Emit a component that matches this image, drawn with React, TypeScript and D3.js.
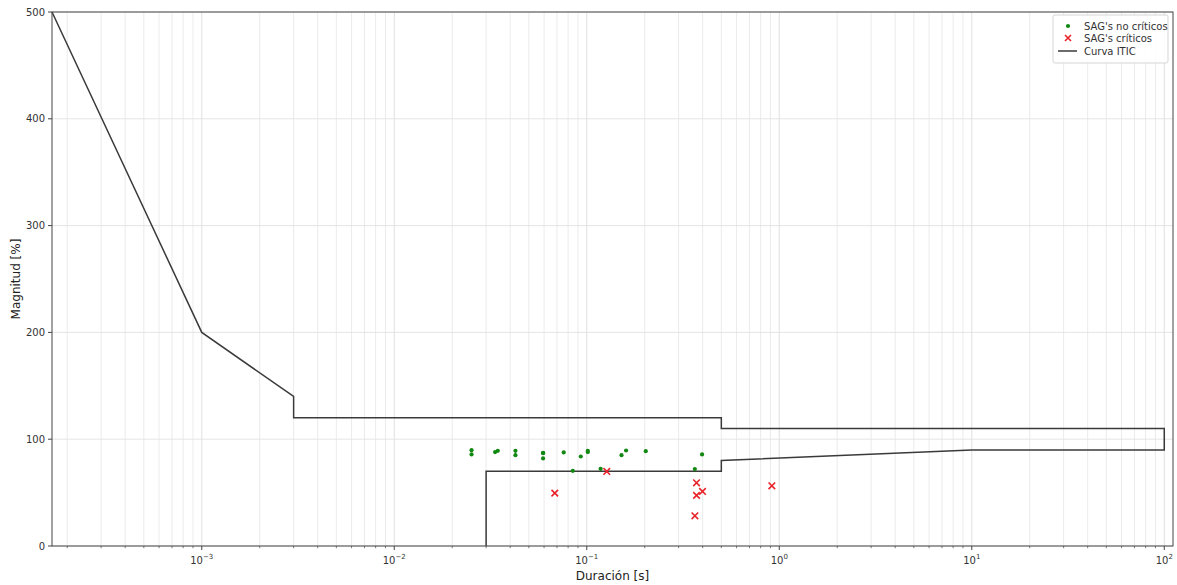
import React from 'react';
import * as d3 from 'd3';

// SAG events (duration in s, magnitude in %)
const nonCriticalDur = [0.0252, 0.0252, 0.0334, 0.0345, 0.0426, 0.0426, 0.0593, 0.0593, 0.0593, 0.0759, 0.0846, 0.0931, 0.1012, 0.1012, 0.118, 0.1515, 0.16, 0.2025, 0.3642, 0.3972];
const nonCriticalMag = [89.7, 85.7, 87.9, 89.1, 89.1, 85.0, 86.9, 87.3, 82.0, 87.6, 70.4, 83.8, 87.9, 89.0, 72.3, 85.0, 89.4, 88.8, 72.0, 85.7];
const criticalDur = [0.0682, 0.127, 0.3717, 0.3993, 0.3717, 0.3645, 0.915];
const criticalMag = [49.5, 69.8, 59.2, 51.1, 47.4, 28.3, 56.4];

// ITIC curve
const iticDur = [1.667e-4, 0.001, 0.003, 0.003, 0.5, 0.5, 100, 100, 10, 0.5, 0.5, 0.03, 0.03];
const iticMag = [500, 200, 140, 120, 120, 110, 110, 90, 90, 80, 70, 70, 0];

const yTicks = [0, 100, 200, 300, 400, 500];
const xDecades = [-3, -2, -1, 0, 1, 2];

const W = 1177;
const H = 585;
const left = 52, right = 1173, top = 12, bottom = 546;

const App = () => {
  const x = d3.scaleLog().domain([1.667e-4, 111]).range([left, right]);
  const y = d3.scaleLinear().domain([0, 500]).range([bottom, top]);

  const minor: number[] = [];
  for (let e = -4; e <= 2; e++) {
    for (let k = 2; k <= 9; k++) {
      const v = k * Math.pow(10, e);
      if (v > 1.667e-4 && v < 111) minor.push(v);
    }
  }

  const line = d3
    .line<number>()
    .x((_, i) => x(iticDur[i]))
    .y((d) => y(d));

  const font = 'DejaVu Sans, sans-serif';
  const ink = '#444';

  return (
    <svg width={W} height={H} style={{ position: 'absolute', left: 0, top: 0 }} fontFamily={font}>
      <rect width={W} height={H} fill="#fff" />
      {/* grid */}
      {minor.map((v, i) => (
        <line key={'mg' + i} x1={x(v)} x2={x(v)} y1={top} y2={bottom} stroke="#e6e6e6" strokeWidth={0.8} />
      ))}
      {xDecades.map((e) => (
        <line key={'Mg' + e} x1={x(Math.pow(10, e))} x2={x(Math.pow(10, e))} y1={top} y2={bottom} stroke="#dcdcdc" strokeWidth={0.9} />
      ))}
      {yTicks.map((t) => (
        <line key={'yg' + t} x1={left} x2={right} y1={y(t)} y2={y(t)} stroke="#e2e2e2" strokeWidth={0.9} />
      ))}

      {/* ITIC */}
      <path d={line(iticMag) || ''} fill="none" stroke="#3a3a3a" strokeWidth={1.5} />

      {/* non critical */}
      {nonCriticalDur.map((d, i) => (
        <circle key={'g' + i} cx={x(d)} cy={y(nonCriticalMag[i])} r={2.1} fill="#118811" />
      ))}
      {/* critical */}
      {criticalDur.map((d, i) => {
        const cx = x(d), cy = y(criticalMag[i]), s = 3.3;
        return (
          <path key={'r' + i} d={`M${cx - s},${cy - s}L${cx + s},${cy + s}M${cx - s},${cy + s}L${cx + s},${cy - s}`} stroke="#e8242a" strokeWidth={1.6} />
        );
      })}

      {/* spines */}
      <rect x={left} y={top} width={right - left} height={bottom - top} fill="none" stroke={ink} strokeWidth={1} />

      {/* y ticks */}
      {yTicks.map((t) => (
        <g key={'yt' + t}>
          <line x1={left - 4} x2={left} y1={y(t)} y2={y(t)} stroke={ink} />
          <text x={left - 7} y={y(t)} dy="0.35em" textAnchor="end" fontSize={10} fill="#333">{t}</text>
        </g>
      ))}
      {/* x ticks */}
      {minor.map((v, i) => (
        <line key={'mt' + i} x1={x(v)} x2={x(v)} y1={bottom} y2={bottom + 2.2} stroke={ink} strokeWidth={0.7} />
      ))}
      {xDecades.map((e) => (
        <g key={'xt' + e}>
          <line x1={x(Math.pow(10, e))} x2={x(Math.pow(10, e))} y1={bottom} y2={bottom + 4} stroke={ink} />
          <text x={x(Math.pow(10, e))} y={bottom + 18} textAnchor="middle" fontSize={10} fill="#333">
            10<tspan dy={-5} fontSize={7}>{(e < 0 ? '\u2212' : '') + Math.abs(e)}</tspan>
          </text>
        </g>
      ))}

      {/* axis labels */}
      <text x={(left + right) / 2} y={580} textAnchor="middle" fontSize={12} fill="#222">Duración [s]</text>
      <text transform={`translate(20,${(top + bottom) / 2}) rotate(-90)`} textAnchor="middle" fontSize={12} fill="#222">Magnitud [%]</text>

      {/* legend */}
      <g>
        <rect x={1053} y={15} width={115} height={48} rx={2} fill="#fff" fillOpacity={0.85} stroke="#d5d5d5" />
        <circle cx={1068} cy={26} r={2.1} fill="#118811" />
        <text x={1084} y={26} dy="0.35em" fontSize={10} fill="#333">SAG's no críticos</text>
        <path d="M1065,35L1071,41M1065,41L1071,35" stroke="#e8242a" strokeWidth={1.6} />
        <text x={1084} y={38} dy="0.35em" fontSize={10} fill="#333">SAG's críticos</text>
        <line x1={1058} x2={1077} y1={51} y2={51} stroke="#3a3a3a" strokeWidth={1.5} />
        <text x={1084} y={51} dy="0.35em" fontSize={10} fill="#333">Curva ITIC</text>
      </g>
    </svg>
  );
};

export default App;
